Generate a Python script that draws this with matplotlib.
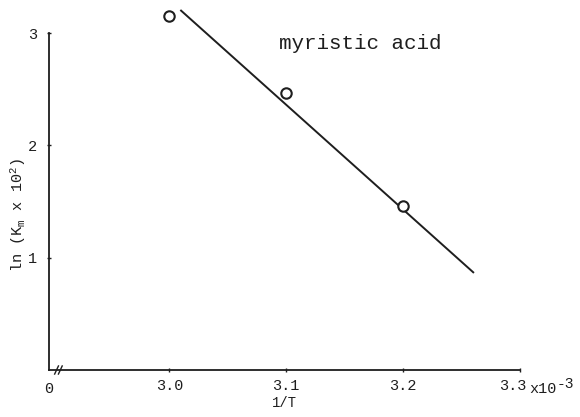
import matplotlib
matplotlib.use("Agg")
import matplotlib.pyplot as plt
from matplotlib.transforms import ScaledTranslation

# Arrhenius-type plot for myristic acid
inv_T = [3.0, 3.1, 3.2]            # 1/T  (x10^-3 K^-1)
ln_km = [3.15, 2.47, 1.46]         # ln(Km x 10^2)

# hand-drawn best-fit line endpoints
fit_x = [3.01, 3.26]
fit_y = [3.20, 0.87]

x_ticks = [3.0, 3.1, 3.2, 3.3]
x_ticklabels = ["3.0", "3.1", "3.2", "3.3"]
y_ticks = [1, 2, 3]
y_ticklabels = ["1", "2", "3"]

plt.rcParams["font.family"] = ["Liberation Mono", "DejaVu Sans Mono"]
plt.rcParams["mathtext.fontset"] = "custom"
plt.rcParams["mathtext.rm"] = "Liberation Mono"
plt.rcParams["mathtext.it"] = "Liberation Mono"

ink = "#1e1e1e"

fig = plt.figure(figsize=(5.8, 4.17), dpi=100)
ax = fig.add_axes([0.0845, 0.1127, 0.812, 0.808])
ax.set_xlim(2.897, 3.3)
ax.set_ylim(0, 3)

for s in ("top", "right"):
    ax.spines[s].set_visible(False)
for s in ("left", "bottom"):
    ax.spines[s].set_linewidth(1.3)
    ax.spines[s].set_color(ink)

ax.plot(fit_x, fit_y, color=ink, lw=1.4, clip_on=False)
ax.plot(inv_T, ln_km, linestyle="none", marker="o", ms=7.5, mfc="white",
        mec=ink, mew=1.5, clip_on=False, zorder=3)

ax.set_xticks(x_ticks)
ax.set_xticklabels(x_ticklabels)
ax.set_yticks(y_ticks)
ax.set_yticklabels(y_ticklabels)
ax.tick_params(axis="both", length=3, width=1, color=ink, labelcolor=ink,
               labelsize=11, direction="inout")
ax.tick_params(axis="x", pad=5)
ax.tick_params(axis="y", pad=7)

# nudge the last x label left to make room for the scale factor
last = ax.xaxis.get_major_ticks()[-1].label1
last.set_transform(last.get_transform()
                   + ScaledTranslation(-0.07, 0, fig.dpi_scale_trans))

# origin label and axis break
ax.text(0.0, -0.035, "0", transform=ax.transAxes, ha="center", va="top",
        fontsize=11, color=ink)
for dx in (0.016, 0.024):
    ax.plot([dx - 0.004, dx + 0.004], [-0.012, 0.012], transform=ax.transAxes,
            color=ink, lw=1.0, clip_on=False)

# scale factor on the x axis
ax.text(1.02, -0.035, "x10", transform=ax.transAxes, ha="left", va="top",
        fontsize=11, color=ink)
ax.text(1.077, -0.022, "-3", transform=ax.transAxes, ha="left", va="top",
        fontsize=10.5, color=ink)

ax.set_xlabel("1/T", fontsize=10, color=ink, labelpad=2)
ax.set_ylabel(r"ln (K$_{\mathrm{m}}$ x 10$^{2}$)", fontsize=11, color=ink,
              labelpad=2)
ax.yaxis.set_label_coords(-0.045, 0.46)

ax.text(0.66, 0.97, "myristic acid", transform=ax.transAxes, ha="center",
        va="center", fontsize=15, color=ink)

fig.savefig("out.png", dpi=100, facecolor="white")
